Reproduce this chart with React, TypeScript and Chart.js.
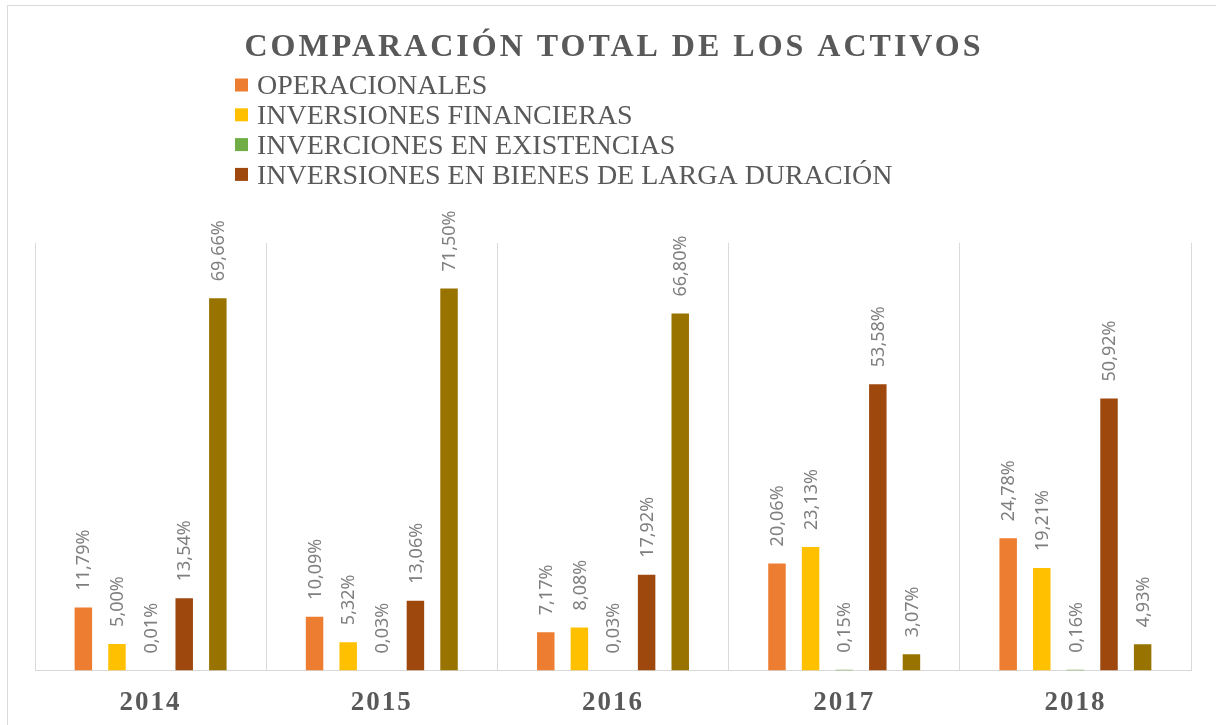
import React, { useEffect, useRef } from "react";
import { Chart, registerables } from "chart.js";

Chart.register(...registerables);

const CATEGORIES = ["2014", "2015", "2016", "2017", "2018"];
const OPERACIONALES = [11.79, 10.09, 7.17, 20.06, 24.78];
const INVERSIONES_FINANCIERAS = [5.0, 5.32, 8.08, 23.13, 19.21];
const INVERCIONES_EXISTENCIAS = [0.01, 0.03, 0.03, 0.15, 0.16];
const INVERSIONES_BIENES = [13.54, 13.06, 17.92, 53.58, 50.92];
const QUINTA_SERIE = [69.66, 71.5, 66.8, 3.07, 4.93];

const SERIES_NAMES = [
  "OPERACIONALES",
  "INVERSIONES FINANCIERAS",
  "INVERCIONES EN EXISTENCIAS",
  "INVERSIONES EN BIENES DE LARGA DURACIÓN",
  "",
];
const SERIES_COLORS = ["#ED7D31", "#FFC000", "#70AD47", "#9E480E", "#997300"];
const SERIES_IN_LEGEND = [true, true, true, true, false];
const TITLE = "COMPARACIÓN TOTAL DE LOS ACTIVOS";
const Y_MIN = 0;
const Y_MAX = 80;

const fmt = (v: number) => v.toFixed(2).replace(".", ",") + "%";

const decorPlugin = {
  id: "decor",
  beforeDraw(chart: any) {
    const ctx = chart.ctx;
    ctx.save();
    ctx.fillStyle = "#ffffff";
    ctx.fillRect(0, 0, chart.width, chart.height);
    ctx.strokeStyle = "#d9d9d9";
    ctx.lineWidth = 1;
    ctx.strokeRect(7.5, 5.5, chart.width + 20, chart.height + 20);
    ctx.restore();
    // letter spacing for axis tick labels
    (ctx as any).letterSpacing = "2px";
  },
  afterDatasetsDraw(chart: any) {
    const ctx = chart.ctx;
    (ctx as any).letterSpacing = "0px";
    ctx.save();
    ctx.font = '18px "Noto Sans"';
    ctx.fillStyle = "#7f7f7f";
    ctx.textAlign = "left";
    ctx.textBaseline = "middle";
    chart.data.datasets.forEach((ds: any, di: number) => {
      const meta = chart.getDatasetMeta(di);
      meta.data.forEach((el: any, i: number) => {
        ctx.save();
        ctx.translate(el.x + 1, el.y - 17);
        ctx.rotate(-Math.PI / 2);
        ctx.fillText(fmt(ds.data[i]), 0, 0);
        ctx.restore();
      });
    });
    ctx.restore();
  },
  afterDraw(chart: any) {
    const ctx = chart.ctx;
    (ctx as any).letterSpacing = "0px";
    ctx.save();
    // title
    ctx.font = 'bold 32px "Liberation Serif"';
    (ctx as any).letterSpacing = "3px";
    ctx.fillStyle = "#595959";
    ctx.textAlign = "center";
    ctx.textBaseline = "alphabetic";
    ctx.fillText(TITLE, 614, 56);
    (ctx as any).letterSpacing = "0px";
    // legend
    ctx.font = '28px "Liberation Serif"';
    ctx.textAlign = "left";
    let row = 0;
    chart.data.datasets.forEach((ds: any, di: number) => {
      if (!SERIES_IN_LEGEND[di]) return;
      const cy = 85 + row * 29.8;
      ctx.fillStyle = ds.backgroundColor;
      ctx.fillRect(235, cy - 6.5, 13, 13);
      ctx.fillStyle = "#595959";
      ctx.fillText(ds.label, 257, cy + 9.3);
      row++;
    });
    ctx.restore();
  },
};

export default function App() {
  const ref = useRef<HTMLCanvasElement>(null);
  useEffect(() => {
    if (!ref.current) return;
    const seriesData = [
      OPERACIONALES,
      INVERSIONES_FINANCIERAS,
      INVERCIONES_EXISTENCIAS,
      INVERSIONES_BIENES,
      QUINTA_SERIE,
    ];
    const chart = new Chart(ref.current, {
      type: "bar",
      data: {
        labels: CATEGORIES,
        datasets: seriesData.map((d, i) => ({
          label: SERIES_NAMES[i],
          data: d,
          backgroundColor: SERIES_COLORS[i],
          borderWidth: 0,
          barPercentage: 0.52,
          categoryPercentage: 0.727,
        })),
      },
      options: {
        responsive: false,
        maintainAspectRatio: false,
        devicePixelRatio: 1,
        animation: false,
        layout: { padding: { top: 243, left: 35, right: 25, bottom: -10 } },
        plugins: {
          legend: { display: false },
          title: { display: false },
          tooltip: { enabled: false },
        },
        scales: {
          x: {
            grid: { color: "#d9d9d9", offset: true, drawTicks: false, lineWidth: 1 },
            border: { color: "#d9d9d9", width: 1 },
            ticks: {
              color: "#595959",
              padding: 16,
              font: { family: "Liberation Serif", size: 27, weight: "bold" },
            },
          },
          y: { display: false, min: Y_MIN, max: Y_MAX },
        },
      },
      plugins: [decorPlugin],
    } as any);
    return () => chart.destroy();
  }, []);
  return (
    <div style={{ position: "fixed", left: 0, top: 0, width: 1216, height: 725, background: "#fff" }}>
      <canvas ref={ref} width={1216} height={725} style={{ display: "block", width: 1216, height: 725 }} />
    </div>
  );
}
